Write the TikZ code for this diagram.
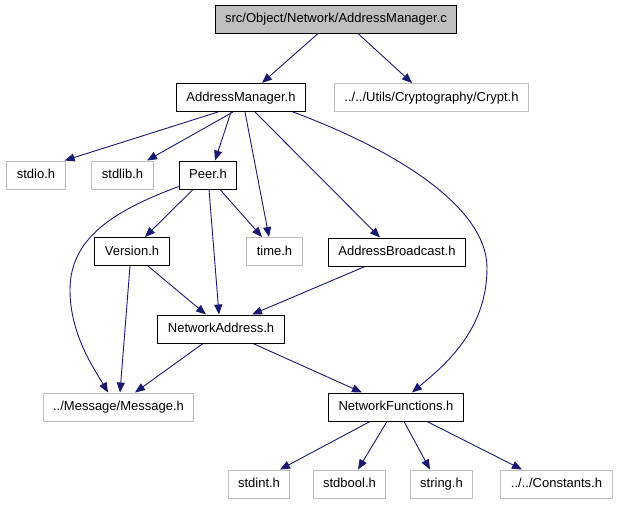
\documentclass[tikz,border=0pt]{standalone}
\usepackage{fontspec}
\setmainfont{Liberation Sans}
\usetikzlibrary{arrows.meta}
\definecolor{dg-edge}{HTML}{191970}
\definecolor{dg-grey}{HTML}{BFBFBF}
\begin{document}
\begin{tikzpicture}[x=1pt, y=-1pt, font=\fontsize{13}{15}\selectfont,
    hdr/.style={draw=black, line width=1pt, fill=white, minimum height=28pt,
        inner xsep=10pt, inner ysep=0pt, text height=9.5pt, text depth=2.5pt},
    sys/.style={hdr, draw=dg-grey},
    inc/.style={draw=dg-edge, line width=0.9pt, -{Triangle[length=10pt,width=8pt]}}]
    \useasboundingbox (0,0) rectangle (621,504);
    % Files
    \node[hdr, fill=dg-grey] (root) at (336,19) {src/Object/Network/AddressManager.c};
    \node[hdr] (am) at (241,97.5) {AddressManager.h};
    \node[sys] (crypt) at (431.5,97.5) {../../Utils/Cryptography/Crypt.h};
    \node[sys] (stdio) at (36,175) {stdio.h};
    \node[sys] (stdlib) at (122.5,175) {stdlib.h};
    \node[hdr] (peer) at (208,175) {Peer.h};
    \node[hdr] (version) at (132,251.5) {Version.h};
    \node[sys] (time) at (274.5,251.5) {time.h};
    \node[hdr] (abcast) at (397,252) {AddressBroadcast.h};
    \node[hdr] (netaddr) at (221,329) {NetworkAddress.h};
    \node[sys] (message) at (118.5,407) {../Message/Message.h};
    \node[hdr] (netfunc) at (396,407) {NetworkFunctions.h};
    \node[sys] (stdint) at (259,484) {stdint.h};
    \node[sys] (stdbool) at (349.5,484) {stdbool.h};
    \node[sys] (string) at (441.5,484) {string.h};
    \node[sys] (consts) at (556.5,484) {../../Constants.h};
    % Includes of AddressManager.c
    \draw[inc] ([xshift=-18pt]root.south) -- ([xshift=21pt]am.north);
    \draw[inc] ([xshift=22pt]root.south) -- ([xshift=-19.5pt]crypt.north);
    % Includes of AddressManager.h
    \draw[inc] ([xshift=-23pt]am.south) -- ([xshift=-1pt]stdio.north east);
    \draw[inc] ([xshift=-8pt]am.south) -- ([xshift=24.5pt]stdlib.north);
    \draw[inc] ([xshift=-10pt]am.south) -- ([xshift=7pt]peer.north);
    \draw[inc] ([xshift=4pt]am.south) -- ([xshift=-5.5pt]time.north);
    \draw[inc] ([xshift=14pt]am.south) -- ([xshift=-17pt]abcast.north);
    \draw[inc] ([xshift=52pt]am.south) .. controls (390,148) and (487,205) .. (487,268)
        .. controls (487,330) and (445,365) .. ([xshift=16pt]netfunc.north);
    % Includes of Peer.h
    \draw[inc] ([yshift=3pt]peer.south west) .. controls (110,212) and (70,240) .. (70,290)
        .. controls (70,335) and (95,370) .. ([xshift=-10.5pt]message.north);
    \draw[inc] ([xshift=-15pt]peer.south) -- ([xshift=13pt]version.north);
    \draw[inc] ([xshift=12pt]peer.south) -- ([xshift=-12.5pt]time.north);
    \draw[inc] ([xshift=1pt]peer.south) -- ([xshift=-2pt]netaddr.north);
    % Includes of Version.h and AddressBroadcast.h
    \draw[inc] ([xshift=16pt]version.south) -- ([xshift=-15pt]netaddr.north);
    \draw[inc] ([xshift=-2pt]version.south) -- ([xshift=1.5pt]message.north);
    \draw[inc] ([xshift=-32pt]abcast.south) -- ([xshift=31pt]netaddr.north);
    % Includes of NetworkAddress.h
    \draw[inc] ([xshift=-18pt]netaddr.south) -- ([xshift=16.5pt]message.north);
    \draw[inc] ([xshift=32pt]netaddr.south) -- ([xshift=-34pt]netfunc.north);
    % Includes of NetworkFunctions.h
    \draw[inc] ([xshift=-26pt]netfunc.south) -- ([xshift=21pt]stdint.north);
    \draw[inc] ([xshift=-9pt]netfunc.south) -- ([xshift=8.5pt]stdbool.north);
    \draw[inc] ([xshift=8pt]netfunc.south) -- ([xshift=-11.5pt]string.north);
    \draw[inc] ([xshift=31pt]netfunc.south) -- ([xshift=-34.5pt]consts.north);
\end{tikzpicture}
\end{document}
